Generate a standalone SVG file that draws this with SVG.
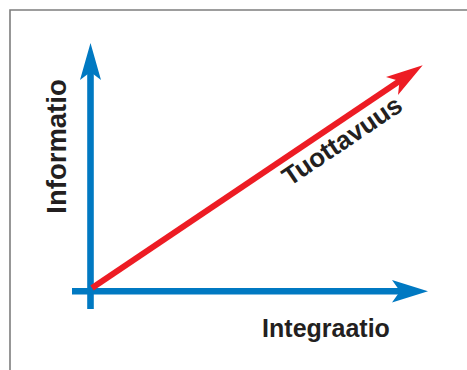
<svg xmlns="http://www.w3.org/2000/svg" width="467" height="370" viewBox="0 0 467 370">
<style>
.frame{fill:none;stroke:#7d7d7d;stroke-width:1.6}
.blue{stroke:#0079c2;stroke-width:6.6;fill:none}
.bluehead{fill:#0079c2}
.red{stroke:#ed1c24;stroke-width:6;fill:none}
.redhead{fill:#ed1c24}
.lbl{font-family:"Liberation Sans",Arial,sans-serif;font-weight:bold;fill:#231f20}
</style>
<rect width="467" height="370" fill="#fff"/>
<path class="frame" d="M10,370 V10 H467"/>
<g id="connectors">
<g id="y-axis">
<line class="blue" x1="90.5" y1="309" x2="90.5" y2="70"/>
<polygon class="bluehead" points="90.5,43 101,80 90.5,72 80,80"/>
</g>
<g id="x-axis">
<line class="blue" x1="72" y1="291.3" x2="402" y2="291.3"/>
<polygon class="bluehead" points="428,291.3 392,280 400,291.3 392,302.5"/>
</g>
<g id="tuottavuus-arrow">
<line class="red" x1="92" y1="288" x2="401" y2="80"/>
<polygon class="redhead" points="422.7,65.3 398,95 399.5,81 386,77"/>
</g>
</g>
<g id="label-informatio">
<text class="lbl" font-size="27.5" text-anchor="middle" transform="translate(65.5,146.5) rotate(-90)">Informatio</text>
</g>
<g id="label-integraatio">
<text class="lbl" font-size="25" text-anchor="middle" x="326" y="336.5">Integraatio</text>
</g>
<g id="label-tuottavuus">
<text class="lbl" font-size="26" text-anchor="middle" transform="translate(347,148) rotate(-34)">Tuottavuus</text>
</g>
</svg>
